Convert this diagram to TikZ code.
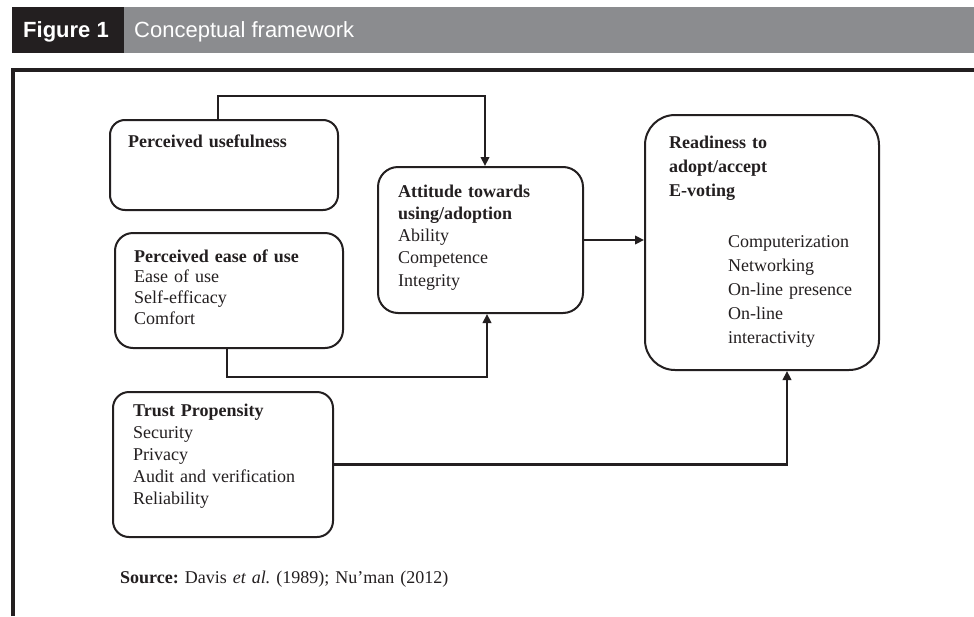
\documentclass[tikz,border=0pt]{standalone}
\usepackage{fontspec}
\setmainfont{Liberation Serif}
\setsansfont{Liberation Sans}
\usetikzlibrary{arrows.meta,calc}
\frenchspacing
\definecolor{ink}{HTML}{231F20}
\definecolor{hdrgray}{HTML}{8B8C8F}
\tikzset{
  box/.style={draw=ink, line width=2pt, inner sep=0pt, rounded corners=#1},
  box/.default=16pt,
  conn/.style={draw=ink, line width=2.4pt, -{Triangle[length=9pt,width=8.5pt]}},
  txt/.style={anchor=base west, inner sep=0pt, text width=230pt, align=left, text=ink},
}
\begin{document}
\begin{tikzpicture}[x=1pt,y=-1pt]
\useasboundingbox (0,0) rectangle (974,616);
\fill[white] (0,0) rectangle (974,616);
% header
\fill[hdrgray] (12,7) rectangle (974,53);
\fill[ink] (12,7) rectangle (124,53);
\node[anchor=base west, inner sep=0pt, text=white, font=\sffamily\bfseries\fontsize{22}{26}\selectfont] (figlab) at (23,37) {Figure 1};
\node[anchor=base west, inner sep=0pt, text=white, font=\sffamily\fontsize{22}{26}\selectfont] (figtitle) at (134,37) {Conceptual framework};
% frame
\draw[ink, line width=4pt, line join=miter] (13,616) -- (13,70) -- (974,70);
% boxes
\node[box=15pt, minimum width=228pt, minimum height=90pt] (pu) at (224,165) {};
\node[box=20pt, minimum width=205pt, minimum height=146pt] (att) at (480.5,240) {};
\node[box=18pt, minimum width=228pt, minimum height=115pt] (peu) at (229,290.5) {};
\node[box=16pt, minimum width=220pt, minimum height=145pt] (tp) at (223,464.5) {};
\node[box=30pt, minimum width=234pt, minimum height=255pt] (rd) at (762,242.5) {};
% texts
\begin{scope}[font=\fontsize{18}{22}\selectfont]
\node[txt] (putxt) at (128,147) {\textbf{Perceived usefulness}};
\node[txt, font=\fontsize{18}{22.3}\selectfont] (atttxt) at (398,197) {\textbf{Attitude towards}\\\textbf{using/adoption}\\Ability\\Competence\\Integrity};
\node[txt, font=\fontsize{18}{20.7}\selectfont] (peutxt) at (134,262) {\textbf{Perceived ease of use}\\Ease of use\\Self-efficacy\\Comfort};
\node[txt, font=\fontsize{18}{22.2}\selectfont] (tptxt) at (133,416) {\textbf{Trust Propensity}\\Security\\Privacy\\Audit and verification\\Reliability};
\node[txt, font=\fontsize{18}{24}\selectfont] (rdtxt) at (669,148) {\textbf{Readiness to}\\\textbf{adopt/accept}\\\textbf{E-voting}};
\node[txt, text width=150pt, font=\fontsize{18}{24}\selectfont] (rditems) at (728,247) {Computerization\\Networking\\On-line presence\\On-line\\interactivity};
\node[txt, text width=500pt] (src) at (120,583) {\textbf{Source:} Davis \textit{et al.} (1989); Nu’man (2012)};
\end{scope}
% connectors
\coordinate (puout) at ($(pu.north west)+(109,0)$);
\coordinate (puturn) at ($(puout)+(0,-23)$);
\coordinate (attin) at ($(att.north west)+(108,0)$);
\draw[conn] (puout) -- (puturn) -| (attin);
\coordinate (peuout) at ($(peu.south west)+(113,0)$);
\coordinate (peuturn) at ($(peuout)+(0,28)$);
\coordinate (attin2) at ($(att.south west)+(110,0)$);
\draw[conn] (peuout) -- (peuturn) -| (attin2);
\draw[conn] (att.east) -- (att.east -| rd.west);
\coordinate (rdin) at ($(rd.south west)+(143,0)$);
\draw[conn] (tp.east) -| (rdin);
\end{tikzpicture}
\end{document}
